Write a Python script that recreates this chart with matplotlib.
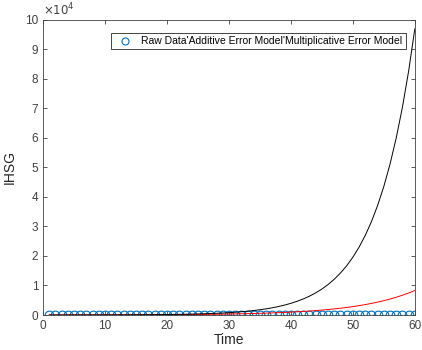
import matplotlib
matplotlib.use('Agg')
import matplotlib.pyplot as plt
from matplotlib.ticker import FuncFormatter

plt.rcParams['font.family'] = ['Liberation Sans', 'DejaVu Sans']

time = list(range(1, 61))
raw = [100] * 60
additive = [15, 17, 19, 21, 23, 26, 29, 32, 36, 40,
            44, 49, 55, 61, 68, 76, 84, 94, 104, 116,
            129, 143, 160, 178, 198, 220, 245, 270, 300, 335,
            375, 415, 465, 515, 575, 640, 710, 790, 880, 980,
            1090, 1210, 1350, 1500, 1670, 1860, 2070, 2300, 2560, 2850,
            3170, 3530, 3930, 4370, 4860, 5410, 6020, 6700, 7460, 8300]
multiplicative = [8, 9, 11, 12, 15, 17, 20, 24, 28, 33,
                  38, 45, 53, 62, 73, 85, 100, 117, 138, 162,
                  190, 222, 260, 305, 360, 420, 495, 580, 680, 800,
                  940, 1100, 1290, 1515, 1780, 2090, 2450, 2870, 3370, 3960,
                  4640, 5450, 6390, 7500, 8800, 10330, 12120, 14230, 16690, 19590,
                  22990, 26980, 31650, 37150, 43590, 51150, 60030, 70440, 82660, 97000]

fig = plt.figure(figsize=(4.22, 3.5), dpi=100)
ax = fig.add_axes([0.102, 0.1, 0.881, 0.843])

ax.plot(time, raw, 'o', markerfacecolor='none', markeredgecolor='#0072BD',
        markersize=6.3, markeredgewidth=0.8,
        label="Raw Data'Additive Error Model'Multiplicative Error Model")
ax.plot(time, additive, color='red', linewidth=0.7)
ax.plot(time, multiplicative, color='black', linewidth=0.7)

ax.set_xlim(0, 60)
ax.set_ylim(0, 100000)
ax.set_xticks(range(0, 61, 10))
ax.set_yticks(range(0, 100001, 10000))
ax.yaxis.set_major_formatter(FuncFormatter(lambda v, p: '%d' % round(v / 10000)))
ax.text(0.0, 1.005, r'$\times10^4$', transform=ax.transAxes, fontsize=8.5,
        color='#404040', va='bottom', ha='left')

ax.tick_params(direction='in', top=True, right=True, labelsize=8.5,
               colors='#404040', length=3, width=0.6)
for s in ax.spines.values():
    s.set_color('#404040')
    s.set_linewidth(0.6)

ax.set_xlabel('Time', fontsize=10, color='#262626', labelpad=1)
ax.set_ylabel('IHSG', fontsize=10, color='#262626', labelpad=6)

leg = ax.legend(loc='upper right', fontsize=7.5, fancybox=False, framealpha=1,
                edgecolor='#262626', borderpad=0.3, handletextpad=0.6,
                markerscale=0.8, borderaxespad=0, bbox_to_anchor=(0.975, 0.955))
leg.get_frame().set_linewidth(0.6)

fig.savefig('out.png', dpi=100)
